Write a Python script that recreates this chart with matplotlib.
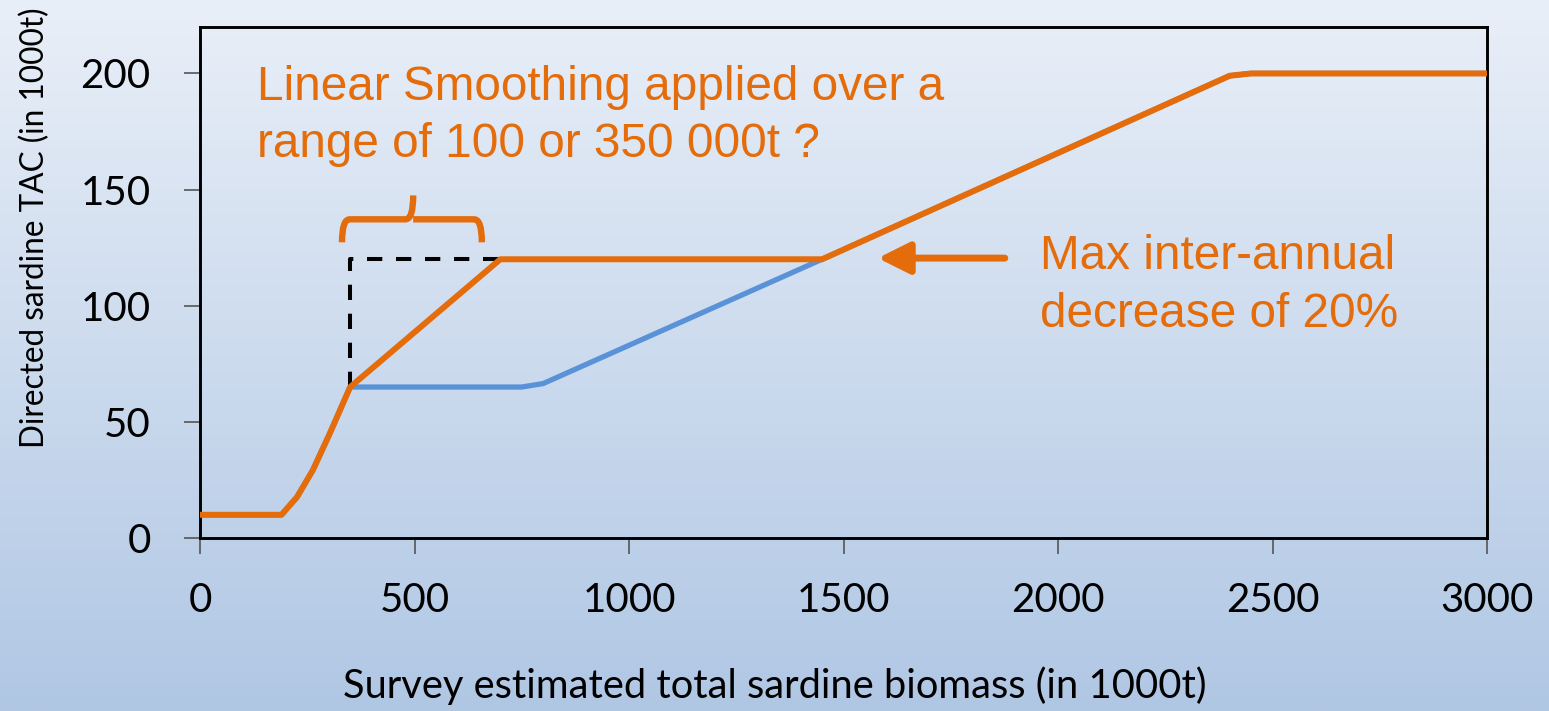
import numpy as np
import matplotlib.pyplot as plt
from matplotlib.path import Path
from matplotlib.patches import PathPatch

# Datos de las curvas (biomasa en 1000t, TAC en 1000t)
orange_x = [0, 190, 226, 263, 303, 350, 700, 1450, 2400, 2450, 3000]
orange_y = [10, 10, 17.6, 29.2, 45.2, 65, 120, 120, 199, 200, 200]
blue_x = [0, 190, 226, 263, 303, 350, 750, 800, 1450, 2400, 2450, 3000]
blue_y = [10, 10, 17.6, 29.2, 45.2, 65, 65, 66.5, 120, 199, 200, 200]
dash_x = [350, 350, 700]
dash_y = [65, 120, 120]

x_ticks = [0, 500, 1000, 1500, 2000, 2500, 3000]
y_ticks = [0, 50, 100, 150, 200]

# Llave y flecha
brace_x0, brace_x1, brace_tip = 331, 657, 497
brace_y0, brace_y1, brace_ytip = 127.3, 137.2, 147.5
arrow_from = (1876, 120.5)
arrow_to = (1580, 120.5)

ORANGE = '#E46C0A'
BLUE = '#5A92D8'

fig = plt.figure(figsize=(15.49, 7.11), dpi=100)

# Fondo degradado
bg = fig.add_axes([0, 0, 1, 1], zorder=-10)
grad = np.linspace(0, 1, 256).reshape(-1, 1)
top = np.array([233, 239, 248]) / 255
bot = np.array([176, 199, 228]) / 255
img = top[None, None, :] * (1 - grad[:, :, None]) + bot[None, None, :] * grad[:, :, None]
bg.imshow(img, aspect='auto', extent=[0, 1, 0, 1])
bg.axis('off')

ax = fig.add_axes([200/1549, 173/711, 1287/1549, 511/711])
ax.patch.set_alpha(0)

ax.plot(blue_x, blue_y, color=BLUE, lw=3.8, solid_joinstyle='round', zorder=2)
ax.plot(dash_x, dash_y, color='black', lw=2.9, ls=(0, (3.8, 3.4)), zorder=3)
ax.plot(orange_x, orange_y, color=ORANGE, lw=4.3, solid_joinstyle='round', zorder=4)

# Llave
bx_r = 18
verts = [(brace_x0, brace_y0), (brace_x0, brace_y1), (brace_x0 + bx_r, brace_y1),
         (brace_tip - bx_r, brace_y1), (brace_tip, brace_y1), (brace_tip, brace_ytip),
         (brace_tip, brace_y1), (brace_tip + bx_r, brace_y1), (brace_x1 - bx_r, brace_y1),
         (brace_x1, brace_y1), (brace_x1, brace_y0)]
codes = [Path.MOVETO, Path.CURVE3, Path.CURVE3,
         Path.LINETO, Path.CURVE3, Path.CURVE3,
         Path.MOVETO, Path.CURVE3, Path.LINETO, Path.CURVE3, Path.CURVE3]
ax.add_patch(PathPatch(Path(verts, codes), fill=False, ec=ORANGE, lw=4.6,
                       capstyle='butt', joinstyle='round', zorder=4))

# Flecha
ax.annotate('', xy=arrow_to, xytext=arrow_from,
            arrowprops=dict(arrowstyle='-|>,head_length=0.8,head_width=0.4',
                            color=ORANGE, lw=5, shrinkA=0, shrinkB=0,
                            mutation_scale=24))

# Textos (va='baseline' -> base de la última línea)
ax.text(133, 163.9, 'Linear Smoothing applied over a\nrange of 100 or 350 000t ?',
        color=ORANGE, fontsize=34.4, family='Liberation Sans', va='baseline', ha='left',
        linespacing=1.36)
ax.text(1958, 90.8, 'Max inter-annual\ndecrease of 20%',
        color=ORANGE, fontsize=34.4, family='Liberation Sans', va='baseline', ha='left',
        linespacing=1.36)

# Ejes
ax.set_xlim(0, 3000)
ax.set_ylim(0, 220)
ax.set_xticks(x_ticks)
ax.set_yticks(y_ticks)
ax.tick_params(direction='out', length=11.5, width=1.2, color='#555555',
               labelsize=29)
ax.tick_params(axis='x', pad=20)
ax.tick_params(axis='y', pad=24)
for lab in ax.get_xticklabels() + ax.get_yticklabels():
    lab.set_family('Lato')
for s in ax.spines.values():
    s.set_linewidth(2.1)
    s.set_color('black')

fig.text(775/1549, 1 - 698/711, 'Survey estimated total sardine biomass (in 1000t)',
         ha='center', va='baseline', fontsize=28.7, family='Lato')
fig.text(35/1549, 1 - 228/711, 'Directed sardine TAC (in 1000t)',
         ha='center', va='center', rotation=90, fontsize=22.7, family='Lato')

plt.savefig('out.png', dpi=100)
plt.close()
